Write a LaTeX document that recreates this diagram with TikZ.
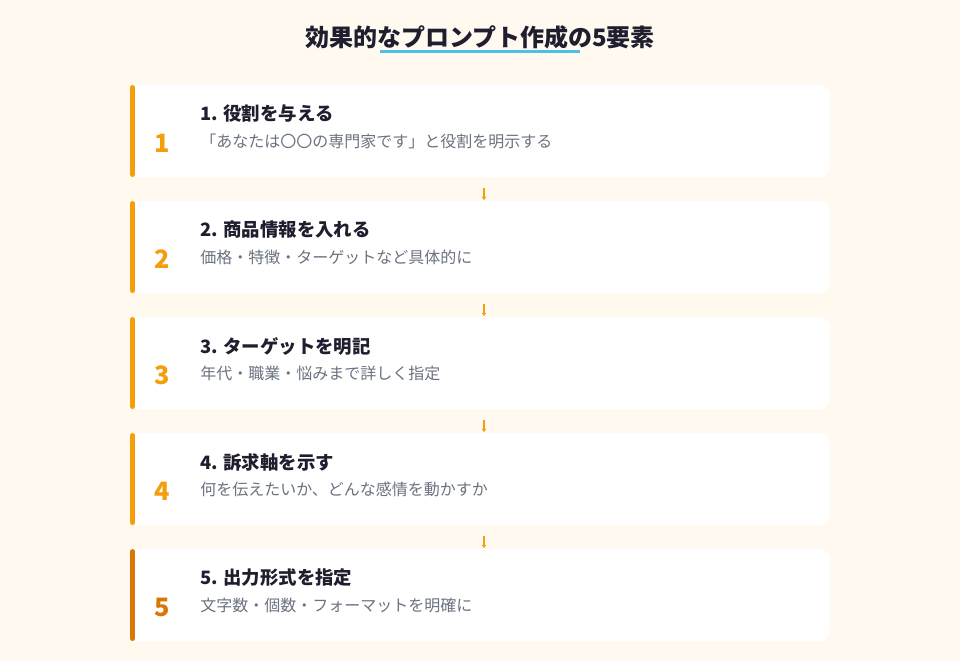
\documentclass[tikz,border=0pt]{standalone}
\usepackage{fontspec}
\setmainfont{Noto Sans CJK JP}
\usetikzlibrary{positioning, arrows.meta}
\definecolor{fondo}{HTML}{FFF9F0}
\definecolor{acento}{HTML}{F59E0B}
\definecolor{acentooscuro}{HTML}{D97706}
\definecolor{tinta}{HTML}{1E1E2E}
\definecolor{gris}{HTML}{6B7280}
\definecolor{azul}{HTML}{4CC0E8}
\tikzset{
	>={Stealth[length=2.5pt,width=3.5pt]}, % Punta de flecha pequena
	node distance=18pt, % Separacion entre tarjetas
	tarjeta/.style={rectangle, rounded corners=7.5pt, fill=white, outer sep=0pt, minimum width=525pt, minimum height=69pt}, % Tarjeta blanca
	barra/.style={line width=3.75pt, line cap=round, draw=acento}, % Borde izquierdo
	numero/.style={font=\bfseries\fontsize{19}{22}\selectfont, text=acento, inner sep=0pt}, % Numero grande
	titulo/.style={anchor=west, font=\bfseries\fontsize{13.8}{16}\selectfont, text=tinta, inner sep=0pt},
	detalle/.style={anchor=west, font=\fontsize{12}{14}\selectfont, text=gris, inner sep=0pt},
	flecha/.style={->, draw=acento, line width=1.5pt, shorten <=8.25pt, shorten >=0.75pt} % Conector entre pasos
}

\begin{document}
\begin{tikzpicture}
	\fill[fondo] (0,0) rectangle (720pt,-495.75pt);
	\useasboundingbox (0,0) rectangle (720pt,-495.75pt);

	\node[font=\bfseries\fontsize{18}{21}\selectfont, text=tinta, inner sep=0pt] (cabecera) at (360pt,-27.75pt) {効果的なプロンプト作成の5要素};
	\draw[azul, line width=2.25pt] (285pt,-38.25pt) -- (435pt,-38.25pt);

	\node[tarjeta] (c1) at (360pt,-98.25pt) {};
	\node[tarjeta, below=of c1] (c2) {};
	\node[tarjeta, below=of c2] (c3) {};
	\node[tarjeta, below=of c3] (c4) {};
	\node[tarjeta, below=of c4] (c5) {};

	\draw[barra] ([xshift=1.9pt,yshift=-1.9pt]c1.north west) -- ([xshift=1.9pt,yshift=1.9pt]c1.south west);
	\draw[barra] ([xshift=1.9pt,yshift=-1.9pt]c2.north west) -- ([xshift=1.9pt,yshift=1.9pt]c2.south west);
	\draw[barra] ([xshift=1.9pt,yshift=-1.9pt]c3.north west) -- ([xshift=1.9pt,yshift=1.9pt]c3.south west);
	\draw[barra] ([xshift=1.9pt,yshift=-1.9pt]c4.north west) -- ([xshift=1.9pt,yshift=1.9pt]c4.south west);
	\draw[barra, draw=acentooscuro] ([xshift=1.9pt,yshift=-1.9pt]c5.north west) -- ([xshift=1.9pt,yshift=1.9pt]c5.south west);

	\node[numero] (n1) at ([xshift=24pt,yshift=-9pt]c1.west) {1};
	\node[titulo] (t1) at ([xshift=52.5pt,yshift=12.75pt]c1.west) {1. 役割を与える};
	\node[detalle] (d1) at ([xshift=52.5pt,yshift=-7.5pt]c1.west) {「あなたは〇〇の専門家です」と役割を明示する};

	\node[numero] (n2) at ([xshift=24pt,yshift=-9pt]c2.west) {2};
	\node[titulo] (t2) at ([xshift=52.5pt,yshift=12.75pt]c2.west) {2. 商品情報を入れる};
	\node[detalle] (d2) at ([xshift=52.5pt,yshift=-7.5pt]c2.west) {価格・特徴・ターゲットなど具体的に};

	\node[numero] (n3) at ([xshift=24pt,yshift=-9pt]c3.west) {3};
	\node[titulo] (t3) at ([xshift=52.5pt,yshift=12.75pt]c3.west) {3. ターゲットを明記};
	\node[detalle] (d3) at ([xshift=52.5pt,yshift=-7.5pt]c3.west) {年代・職業・悩みまで詳しく指定};

	\node[numero] (n4) at ([xshift=24pt,yshift=-9pt]c4.west) {4};
	\node[titulo] (t4) at ([xshift=52.5pt,yshift=12.75pt]c4.west) {4. 訴求軸を示す};
	\node[detalle] (d4) at ([xshift=52.5pt,yshift=-7.5pt]c4.west) {何を伝えたいか、どんな感情を動かすか};

	\node[numero, text=acentooscuro] (n5) at ([xshift=24pt,yshift=-9pt]c5.west) {5};
	\node[titulo] (t5) at ([xshift=52.5pt,yshift=12.75pt]c5.west) {5. 出力形式を指定};
	\node[detalle] (d5) at ([xshift=52.5pt,yshift=-7.5pt]c5.west) {文字数・個数・フォーマットを明確に};

	\draw[flecha] ([xshift=3pt]c1.south) -- ([xshift=3pt]c2.north);
	\draw[flecha] ([xshift=3pt]c2.south) -- ([xshift=3pt]c3.north);
	\draw[flecha] ([xshift=3pt]c3.south) -- ([xshift=3pt]c4.north);
	\draw[flecha] ([xshift=3pt]c4.south) -- ([xshift=3pt]c5.north);
\end{tikzpicture}
\end{document}
